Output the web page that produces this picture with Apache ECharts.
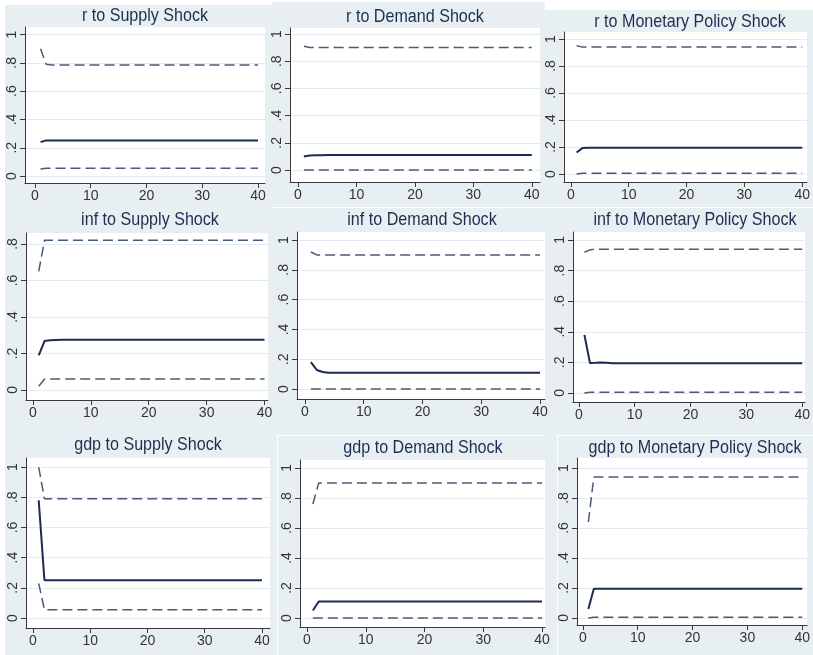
<!DOCTYPE html>
<html>
<head>
<meta charset="utf-8">
<script src="https://cdn.jsdelivr.net/npm/echarts@6/dist/echarts.min.js"></script>
<style>
  html, body { margin: 0; padding: 0; background: #ffffff; }
  #chart { width: 813px; height: 655px; }
</style>
</head>
<body>
<div id="chart"></div>
<script>
// Impulse-response horizons and axis ticks
const steps = [1,2,3,4,5,6,7,8,9,10,11,12,13,14,15,16,17,18,19,20,
               21,22,23,24,25,26,27,28,29,30,31,32,33,34,35,36,37,38,39,40];
const xTicks = [0, 10, 20, 30, 40];
const yTicksFull = [0, 0.2, 0.4, 0.6, 0.8, 1];
const yTicksShort = [0, 0.2, 0.4, 0.6, 0.8];

const panelTitles = [
  'r to Supply Shock', 'r to Demand Shock', 'r to Monetary Policy Shock',
  'inf to Supply Shock', 'inf to Demand Shock', 'inf to Monetary Policy Shock',
  'gdp to Supply Shock', 'gdp to Demand Shock', 'gdp to Monetary Policy Shock'
];

// r responses (lower band, point estimate, upper band)
const rSupplyLo = [0.050,0.055,0.055,0.055,0.055,0.055,0.055,0.055,0.055,0.055,
                   0.055,0.055,0.055,0.055,0.055,0.055,0.055,0.055,0.055,0.055,
                   0.055,0.055,0.055,0.055,0.055,0.055,0.055,0.055,0.055,0.055,
                   0.055,0.055,0.055,0.055,0.055,0.055,0.055,0.055,0.055,0.055];
const rSupplyIrf = [0.240,0.252,0.252,0.252,0.252,0.252,0.252,0.252,0.252,0.252,
                    0.252,0.252,0.252,0.252,0.252,0.252,0.252,0.252,0.252,0.252,
                    0.252,0.252,0.252,0.252,0.252,0.252,0.252,0.252,0.252,0.252,
                    0.252,0.252,0.252,0.252,0.252,0.252,0.252,0.252,0.252,0.252];
const rSupplyHi = [0.900,0.790,0.785,0.785,0.785,0.785,0.785,0.785,0.785,0.785,
                   0.785,0.785,0.785,0.785,0.785,0.785,0.785,0.785,0.785,0.785,
                   0.785,0.785,0.785,0.785,0.785,0.785,0.785,0.785,0.785,0.785,
                   0.785,0.785,0.785,0.785,0.785,0.785,0.785,0.785,0.785,0.785];

const rDemandLo = [0.000,0.000,0.000,0.000,0.000,0.000,0.000,0.000,0.000,0.000,
                   0.000,0.000,0.000,0.000,0.000,0.000,0.000,0.000,0.000,0.000,
                   0.000,0.000,0.000,0.000,0.000,0.000,0.000,0.000,0.000,0.000,
                   0.000,0.000,0.000,0.000,0.000,0.000,0.000,0.000,0.000,0.000];
const rDemandIrf = [0.100,0.106,0.108,0.109,0.110,0.110,0.110,0.110,0.110,0.110,
                    0.110,0.110,0.110,0.110,0.110,0.110,0.110,0.110,0.110,0.110,
                    0.110,0.110,0.110,0.110,0.110,0.110,0.110,0.110,0.110,0.110,
                    0.110,0.110,0.110,0.110,0.110,0.110,0.110,0.110,0.110,0.110];
const rDemandHi = [0.910,0.900,0.900,0.900,0.900,0.900,0.900,0.900,0.900,0.900,
                   0.900,0.900,0.900,0.900,0.900,0.900,0.900,0.900,0.900,0.900,
                   0.900,0.900,0.900,0.900,0.900,0.900,0.900,0.900,0.900,0.900,
                   0.900,0.900,0.900,0.900,0.900,0.900,0.900,0.900,0.900,0.900];

const rMonLo = [0.000,0.005,0.005,0.005,0.005,0.005,0.005,0.005,0.005,0.005,
                0.005,0.005,0.005,0.005,0.005,0.005,0.005,0.005,0.005,0.005,
                0.005,0.005,0.005,0.005,0.005,0.005,0.005,0.005,0.005,0.005,
                0.005,0.005,0.005,0.005,0.005,0.005,0.005,0.005,0.005,0.005];
const rMonIrf = [0.160,0.192,0.195,0.195,0.195,0.195,0.195,0.195,0.195,0.195,
                 0.195,0.195,0.195,0.195,0.195,0.195,0.195,0.195,0.195,0.195,
                 0.195,0.195,0.195,0.195,0.195,0.195,0.195,0.195,0.195,0.195,
                 0.195,0.195,0.195,0.195,0.195,0.195,0.195,0.195,0.195,0.195];
const rMonHi = [0.950,0.940,0.940,0.940,0.940,0.940,0.940,0.940,0.940,0.940,
                0.940,0.940,0.940,0.940,0.940,0.940,0.940,0.940,0.940,0.940,
                0.940,0.940,0.940,0.940,0.940,0.940,0.940,0.940,0.940,0.940,
                0.940,0.940,0.940,0.940,0.940,0.940,0.940,0.940,0.940,0.940];

// inf responses
const infSupplyLo = [0.020,0.060,0.060,0.060,0.060,0.060,0.060,0.060,0.060,0.060,
                     0.060,0.060,0.060,0.060,0.060,0.060,0.060,0.060,0.060,0.060,
                     0.060,0.060,0.060,0.060,0.060,0.060,0.060,0.060,0.060,0.060,
                     0.060,0.060,0.060,0.060,0.060,0.060,0.060,0.060,0.060,0.060];
const infSupplyIrf = [0.190,0.268,0.272,0.274,0.275,0.275,0.275,0.275,0.275,0.275,
                      0.275,0.275,0.275,0.275,0.275,0.275,0.275,0.275,0.275,0.275,
                      0.275,0.275,0.275,0.275,0.275,0.275,0.275,0.275,0.275,0.275,
                      0.275,0.275,0.275,0.275,0.275,0.275,0.275,0.275,0.275,0.275];
const infSupplyHi = [0.650,0.820,0.820,0.820,0.820,0.820,0.820,0.820,0.820,0.820,
                     0.820,0.820,0.820,0.820,0.820,0.820,0.820,0.820,0.820,0.820,
                     0.820,0.820,0.820,0.820,0.820,0.820,0.820,0.820,0.820,0.820,
                     0.820,0.820,0.820,0.820,0.820,0.820,0.820,0.820,0.820,0.820];

const infDemandLo = [0.000,0.000,0.000,0.000,0.000,0.000,0.000,0.000,0.000,0.000,
                     0.000,0.000,0.000,0.000,0.000,0.000,0.000,0.000,0.000,0.000,
                     0.000,0.000,0.000,0.000,0.000,0.000,0.000,0.000,0.000,0.000,
                     0.000,0.000,0.000,0.000,0.000,0.000,0.000,0.000,0.000,0.000];
const infDemandIrf = [0.180,0.128,0.114,0.110,0.110,0.110,0.110,0.110,0.110,0.110,
                      0.110,0.110,0.110,0.110,0.110,0.110,0.110,0.110,0.110,0.110,
                      0.110,0.110,0.110,0.110,0.110,0.110,0.110,0.110,0.110,0.110,
                      0.110,0.110,0.110,0.110,0.110,0.110,0.110,0.110,0.110,0.110];
const infDemandHi = [0.920,0.900,0.900,0.900,0.900,0.900,0.900,0.900,0.900,0.900,
                     0.900,0.900,0.900,0.900,0.900,0.900,0.900,0.900,0.900,0.900,
                     0.900,0.900,0.900,0.900,0.900,0.900,0.900,0.900,0.900,0.900,
                     0.900,0.900,0.900,0.900,0.900,0.900,0.900,0.900,0.900,0.900];

const infMonLo = [0.000,0.005,0.005,0.005,0.005,0.005,0.005,0.005,0.005,0.005,
                  0.005,0.005,0.005,0.005,0.005,0.005,0.005,0.005,0.005,0.005,
                  0.005,0.005,0.005,0.005,0.005,0.005,0.005,0.005,0.005,0.005,
                  0.005,0.005,0.005,0.005,0.005,0.005,0.005,0.005,0.005,0.005];
const infMonIrf = [0.380,0.196,0.197,0.199,0.198,0.195,0.195,0.195,0.195,0.195,
                   0.195,0.195,0.195,0.195,0.195,0.195,0.195,0.195,0.195,0.195,
                   0.195,0.195,0.195,0.195,0.195,0.195,0.195,0.195,0.195,0.195,
                   0.195,0.195,0.195,0.195,0.195,0.195,0.195,0.195,0.195,0.195];
const infMonHi = [0.920,0.935,0.940,0.940,0.940,0.940,0.940,0.940,0.940,0.940,
                  0.940,0.940,0.940,0.940,0.940,0.940,0.940,0.940,0.940,0.940,
                  0.940,0.940,0.940,0.940,0.940,0.940,0.940,0.940,0.940,0.940,
                  0.940,0.940,0.940,0.940,0.940,0.940,0.940,0.940,0.940,0.940];

// gdp responses
const gdpSupplyLo = [0.230,0.055,0.055,0.055,0.055,0.055,0.055,0.055,0.055,0.055,
                     0.055,0.055,0.055,0.055,0.055,0.055,0.055,0.055,0.055,0.055,
                     0.055,0.055,0.055,0.055,0.055,0.055,0.055,0.055,0.055,0.055,
                     0.055,0.055,0.055,0.055,0.055,0.055,0.055,0.055,0.055,0.055];
const gdpSupplyIrf = [0.780,0.250,0.250,0.250,0.250,0.250,0.250,0.250,0.250,0.250,
                      0.250,0.250,0.250,0.250,0.250,0.250,0.250,0.250,0.250,0.250,
                      0.250,0.250,0.250,0.250,0.250,0.250,0.250,0.250,0.250,0.250,
                      0.250,0.250,0.250,0.250,0.250,0.250,0.250,0.250,0.250,0.250];
const gdpSupplyHi = [1.000,0.790,0.790,0.790,0.790,0.790,0.790,0.790,0.790,0.790,
                     0.790,0.790,0.790,0.790,0.790,0.790,0.790,0.790,0.790,0.790,
                     0.790,0.790,0.790,0.790,0.790,0.790,0.790,0.790,0.790,0.790,
                     0.790,0.790,0.790,0.790,0.790,0.790,0.790,0.790,0.790,0.790];

const gdpDemandLo = [0.000,0.000,0.000,0.000,0.000,0.000,0.000,0.000,0.000,0.000,
                     0.000,0.000,0.000,0.000,0.000,0.000,0.000,0.000,0.000,0.000,
                     0.000,0.000,0.000,0.000,0.000,0.000,0.000,0.000,0.000,0.000,
                     0.000,0.000,0.000,0.000,0.000,0.000,0.000,0.000,0.000,0.000];
const gdpDemandIrf = [0.050,0.110,0.110,0.110,0.110,0.110,0.110,0.110,0.110,0.110,
                      0.110,0.110,0.110,0.110,0.110,0.110,0.110,0.110,0.110,0.110,
                      0.110,0.110,0.110,0.110,0.110,0.110,0.110,0.110,0.110,0.110,
                      0.110,0.110,0.110,0.110,0.110,0.110,0.110,0.110,0.110,0.110];
const gdpDemandHi = [0.760,0.900,0.900,0.900,0.900,0.900,0.900,0.900,0.900,0.900,
                     0.900,0.900,0.900,0.900,0.900,0.900,0.900,0.900,0.900,0.900,
                     0.900,0.900,0.900,0.900,0.900,0.900,0.900,0.900,0.900,0.900,
                     0.900,0.900,0.900,0.900,0.900,0.900,0.900,0.900,0.900,0.900];

const gdpMonLo = [0.000,0.005,0.005,0.005,0.005,0.005,0.005,0.005,0.005,0.005,
                  0.005,0.005,0.005,0.005,0.005,0.005,0.005,0.005,0.005,0.005,
                  0.005,0.005,0.005,0.005,0.005,0.005,0.005,0.005,0.005,0.005,
                  0.005,0.005,0.005,0.005,0.005,0.005,0.005,0.005,0.005,0.005];
const gdpMonIrf = [0.060,0.195,0.195,0.195,0.195,0.195,0.195,0.195,0.195,0.195,
                   0.195,0.195,0.195,0.195,0.195,0.195,0.195,0.195,0.195,0.195,
                   0.195,0.195,0.195,0.195,0.195,0.195,0.195,0.195,0.195,0.195,
                   0.195,0.195,0.195,0.195,0.195,0.195,0.195,0.195,0.195,0.195];
const gdpMonHi = [0.640,0.940,0.940,0.940,0.940,0.940,0.940,0.940,0.940,0.940,
                  0.940,0.940,0.940,0.940,0.940,0.940,0.940,0.940,0.940,0.940,
                  0.940,0.940,0.940,0.940,0.940,0.940,0.940,0.940,0.940,0.940,
                  0.940,0.940,0.940,0.940,0.940,0.940,0.940,0.940,0.940,0.940];

const panelSeries = [
  [rSupplyLo, rSupplyIrf, rSupplyHi], [rDemandLo, rDemandIrf, rDemandHi], [rMonLo, rMonIrf, rMonHi],
  [infSupplyLo, infSupplyIrf, infSupplyHi], [infDemandLo, infDemandIrf, infDemandHi], [infMonLo, infMonIrf, infMonHi],
  [gdpSupplyLo, gdpSupplyIrf, gdpSupplyHi], [gdpDemandLo, gdpDemandIrf, gdpDemandHi], [gdpMonLo, gdpMonIrf, gdpMonHi]
];
const panelYTicks = [yTicksFull, yTicksFull, yTicksFull,
                     yTicksShort, yTicksFull, yTicksFull,
                     yTicksFull, yTicksFull, yTicksFull];

// Layout of the nine panels: plot box in pixels, axis extents, title centre
const layout = [
  { box: [25, 27, 240, 156],  x: [-1.79, 41.26], y: [-0.049, 1.053], t: [145, 16]  },
  { box: [290, 28, 250, 154], x: [-1.37, 41.4],  y: [-0.088, 1.044], t: [415, 17]  },
  { box: [564, 32, 249, 150], x: [-1.18, 40.8],  y: [-0.059, 1.052], t: [690, 22]  },
  { box: [26, 233, 242, 167], x: [-1.2, 40.6],   y: [-0.055, 0.86],  t: [150, 220] },
  { box: [297, 232, 248, 167],x: [-1.36, 40.85], y: [-0.067, 1.054], t: [422, 220] },
  { box: [573, 232, 240, 170],x: [-1.04, 40.5],  y: [-0.059, 1.052], t: [695, 220] },
  { box: [26, 458, 244, 170], x: [-1.22, 41.4],  y: [-0.066, 1.06],  t: [148, 445] },
  { box: [300, 460, 245, 167],x: [-1.19, 40.5],  y: [-0.06, 1.053],  t: [423, 448] },
  { box: [577, 458, 236, 167],x: [-1.07, 40.9],  y: [-0.047, 1.067], t: [695, 448] }
];

const FONT = "'Liberation Sans', Arial, Helvetica, sans-serif";
const BACKDROP = '#e8eff2';
const AXIS_COLOR = '#3a3a3a';
const LABEL_COLOR = '#333333';
const GRID_LINE = '#e4ecf0';
const SOLID_COLOR = '#1d2b50';
const DASH_COLOR = '#4c5978';

function tickText(v) {
  if (v === 0) return '0';
  if (v === 1) return '1';
  return String(v).replace(/^0/, '');
}

const grids = [], xAxes = [], yAxes = [], series = [], graphics = [];

// tinted backdrop with white page margins along the top and left edges
graphics.push({ type: 'rect', z: -20, shape: { x: 0, y: 0, width: 813, height: 655 }, style: { fill: BACKDROP } });
const whiteStrips = [
  [0, 0, 5, 655], [0, 0, 272, 5], [272, 0, 273, 2], [545, 0, 268, 10],
  [277, 435, 268, 1], [277, 435, 1, 220], [557, 435, 256, 1], [557, 435, 1, 220],
  [272, 207, 541, 1]
];
whiteStrips.forEach(s => graphics.push({
  type: 'rect', z: -15, shape: { x: s[0], y: s[1], width: s[2], height: s[3] }, style: { fill: '#ffffff' }
}));

layout.forEach((L, i) => {
  graphics.push({
    type: 'text', z: 5,
    x: L.t[0], y: L.t[1], scaleX: 0.87, scaleY: 1,
    style: {
      text: panelTitles[i], align: 'center', verticalAlign: 'middle',
      font: "18.5px " + FONT, fill: '#1f2d50'
    }
  });

  grids.push({
    left: L.box[0], top: L.box[1], width: L.box[2], height: L.box[3],
    show: true, backgroundColor: '#ffffff', borderWidth: 0
  });

  xAxes.push({
    gridIndex: i, type: 'value', min: L.x[0], max: L.x[1],
    axisLine: { show: true, onZero: false, lineStyle: { color: AXIS_COLOR, width: 1 } },
    axisTick: { show: true, length: 5, customValues: xTicks, lineStyle: { color: AXIS_COLOR } },
    axisLabel: { customValues: xTicks, color: LABEL_COLOR, fontFamily: FONT, fontSize: 14, margin: 6 },
    splitLine: { show: false }
  });

  yAxes.push({
    gridIndex: i, type: 'value', min: L.y[0], max: L.y[1],
    axisLine: { show: true, onZero: false, lineStyle: { color: AXIS_COLOR, width: 1 } },
    axisTick: { show: true, length: 5, customValues: panelYTicks[i], lineStyle: { color: AXIS_COLOR } },
    axisLabel: {
      customValues: panelYTicks[i], rotate: 90, color: LABEL_COLOR,
      fontFamily: FONT, fontSize: 14, margin: 6, formatter: tickText
    },
    splitLine: { show: true, lineStyle: { color: GRID_LINE, width: 1 } }
  });

  const [lo, irf, hi] = panelSeries[i];
  const bands = [
    { data: lo, solid: false },
    { data: hi, solid: false },
    { data: irf, solid: true }
  ];
  bands.forEach(b => {
    series.push({
      type: 'line', xAxisIndex: i, yAxisIndex: i,
      data: steps.map((s, k) => [s, b.data[k]]),
      symbol: 'none', showSymbol: false, silent: true,
      lineStyle: b.solid
        ? { color: SOLID_COLOR, width: 2, type: 'solid' }
        : { color: DASH_COLOR, width: 1.5, type: [10, 5] },
      z: b.solid ? 3 : 2
    });
  });
});

const chart = echarts.init(document.getElementById('chart'), null, { renderer: 'canvas', width: 813, height: 655 });
chart.setOption({
  animation: false,
  backgroundColor: '#ffffff',
  graphic: { elements: graphics },
  grid: grids,
  xAxis: xAxes,
  yAxis: yAxes,
  series: series
});
</script>
</body>
</html>
